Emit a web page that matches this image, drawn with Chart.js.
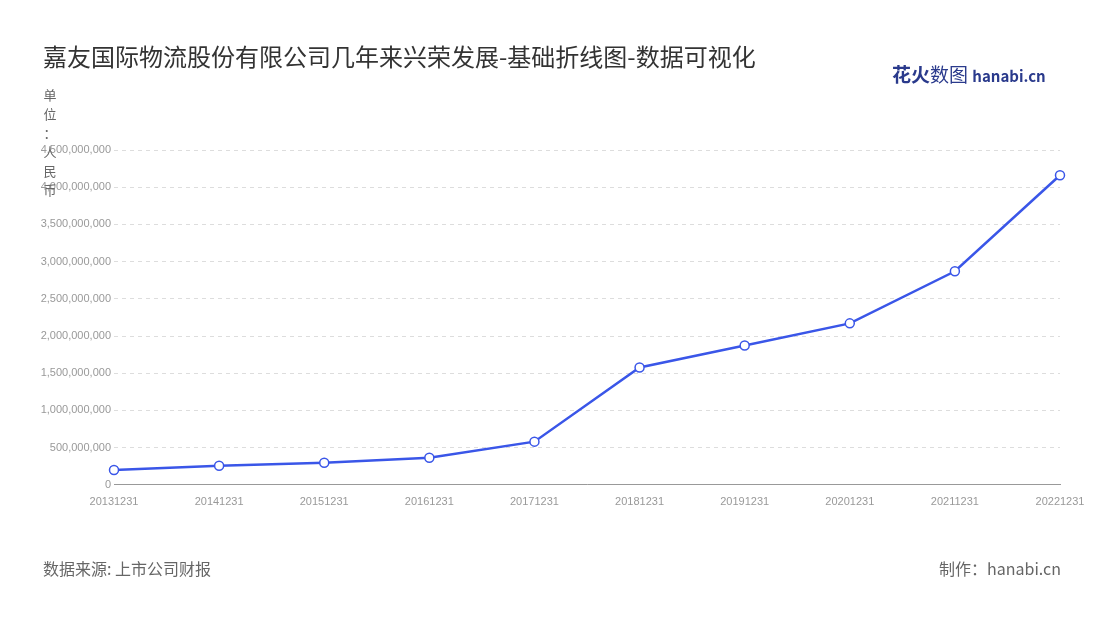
<!DOCTYPE html>
<html><head><meta charset="utf-8">
<script src="https://cdn.jsdelivr.net/npm/chart.js@4"></script>
<style>body{margin:0;background:#fff;font-family:"Noto Sans CJK SC","Noto Sans",sans-serif}
#w{position:relative;width:1100px;height:620px}
#c{position:absolute;left:0;top:0}
.t{position:absolute;color:#333;font-size:24px;left:43px;top:38px}
.s{position:absolute;color:#666;font-size:16px;top:556px}
</style></head><body>
<div id="w"><canvas id="c" width="1100" height="620"></canvas>
<div class="t">嘉友国际物流股份有限公司几年来兴荣发展-基础折线图-数据可视化</div>
<div style="position:absolute;left:892px;top:60px;font-size:19px;font-weight:bold;color:#2a3a8c">花火<span style="font-weight:normal">数图</span> <span style="font-size:15px;color:#2a3a8c">hanabi.cn</span></div>
<div class="s" style="left:43px">数据来源: 上市公司财报</div>
<div class="s" style="right:39px">制作：hanabi.cn</div>
</div>
<script>
const categories=["20131231","20141231","20151231","20161231","20171231","20181231","20191231","20201231","20211231","20221231"];
const values=[200000000,256000000,296000000,364000000,580000000,1577000000,1873000000,2170000000,2870000000,4160000000];
const unitChars=["单","位","：","人","民","币"];
const unitPlugin={id:'u',afterDraw(ch){const c=ch.ctx;c.save();c.fillStyle='#666';c.font='13px "Noto Sans CJK SC"';c.textAlign='center';
unitChars.forEach((t,i)=>c.fillText(t,50,100+i*19));c.restore();}};
new Chart(document.getElementById('c'),{type:'line',
data:{labels:categories,datasets:[{data:values,borderColor:'#3a56e8',borderWidth:2.5,pointBackgroundColor:'#fff',pointBorderColor:'#3a56e8',pointBorderWidth:1.5,pointRadius:4.5,tension:0}]},
options:{responsive:false,animation:false,layout:{padding:{left:0,right:40,top:150,bottom:108}},
plugins:{legend:{display:false},tooltip:{enabled:false}},
scales:{x:{offset:false,grid:{display:false},border:{color:'#999'},ticks:{color:'#999',font:{size:11},maxRotation:0,autoSkip:false}},
y:{min:0,max:4500000000,afterFit(s){s.width=114;},ticks:{stepSize:500000000,color:'#999',font:{size:11},callback:v=>v.toLocaleString('en-US')},grid:{color:'#ddd',tickLength:0},border:{display:false,dash:[4,4]}}}},
plugins:[unitPlugin]});
</script></body></html>
